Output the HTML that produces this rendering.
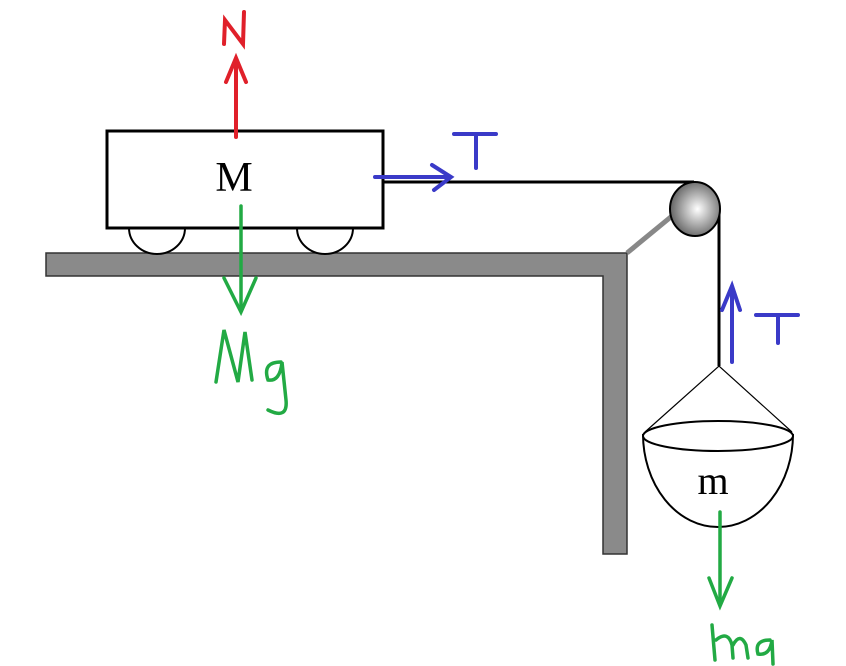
<!DOCTYPE html>
<html><head><meta charset="utf-8"><style>
html,body{margin:0;padding:0;background:#fff;width:846px;height:666px;overflow:hidden}
</style></head><body>
<svg width="846" height="666" viewBox="0 0 846 666" xmlns="http://www.w3.org/2000/svg">
<defs><radialGradient id="g" cx="0.55" cy="0.5" r="0.6"><stop offset="0" stop-color="#fff"/><stop offset="1" stop-color="#555"/></radialGradient></defs>
<path d="M46 253 H627 V554 H603 V276 H46 Z" fill="#8a8a8a" stroke="#333" stroke-width="1.5"/>
<line x1="627" y1="253" x2="672" y2="216" stroke="#888" stroke-width="5"/>
<path d="M129 228 A28 26 0 0 0 185 228" fill="#fff" stroke="#000" stroke-width="2"/>
<path d="M297 228 A28 26 0 0 0 353 228" fill="#fff" stroke="#000" stroke-width="2"/>
<rect x="107" y="131" width="276" height="97" fill="#fff" stroke="#000" stroke-width="3"/>
<text x="234" y="191" font-family="Liberation Serif, serif" font-size="42" text-anchor="middle">M</text>
<line x1="383" y1="182" x2="694" y2="182" stroke="#000" stroke-width="3"/>
<line x1="719" y1="208" x2="719" y2="366" stroke="#000" stroke-width="3"/>
<ellipse cx="695" cy="209" rx="25" ry="27" fill="url(#g)" stroke="#000" stroke-width="2"/>
<path d="M645 432 L719 366 L792 432" fill="none" stroke="#000" stroke-width="1.2"/>
<path d="M643 434 A75 93 0 0 0 793 434" fill="#fff" stroke="#000" stroke-width="2"/>
<ellipse cx="718" cy="436" rx="75" ry="15" fill="#fff" stroke="#000" stroke-width="2"/>
<text x="713" y="494" font-family="Liberation Serif, serif" font-size="40" text-anchor="middle">m</text>
<g stroke="#e0202a" stroke-width="4" fill="none" stroke-linecap="round">
<line x1="236" y1="137" x2="236" y2="60"/><path d="M226 82 L236 58 L246 82"/>
<path d="M224 44 L225 20 L243 44 L244 12"/></g>
<g stroke="#22aa44" stroke-width="3.5" fill="none" stroke-linecap="round">
<line x1="241" y1="206" x2="241" y2="310"/><path d="M224 278 L241 312 L256 278"/>
<path d="M216 382 L224 330 L238 382 L245 332 L252 380"/>
<path d="M281 362 Q262 362 268 380 Q280 382 282 362 L286 400 Q288 420 268 410"/>
<line x1="720" y1="512" x2="720" y2="605"/><path d="M709 578 L720 606 L732 578"/>
<path d="M715 660 L712 625 M716 640 Q728 630 732 645 L733 658 M733 645 Q740 632 746 645 L748 658"/>
<path d="M770 640 Q754 640 758 654 Q770 656 772 640 L773 664"/></g>
<g stroke="#3a3ac8" stroke-width="4" fill="none" stroke-linecap="round">
<line x1="375" y1="177" x2="450" y2="177"/><path d="M432 165 L451 177 L434 190"/>
<path d="M454 134 H496 M476 134 V168"/>
<line x1="732" y1="362" x2="732" y2="288"/><path d="M722 310 L732 286 L740 310"/>
<path d="M756 315 H798 M778 315 V343"/></g>
</svg>
</body></html>
